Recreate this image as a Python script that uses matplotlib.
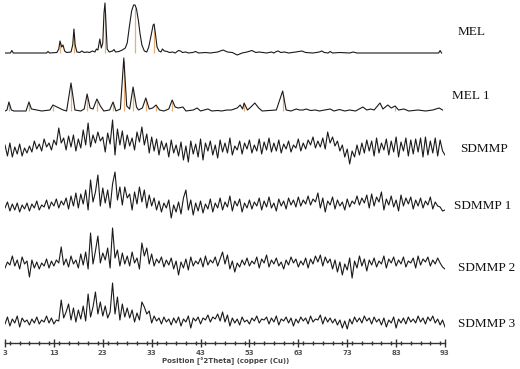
import numpy as np
import matplotlib
matplotlib.use("Agg")
import matplotlib.pyplot as plt
from matplotlib.ticker import MultipleLocator, FixedLocator

# ---------------- data ----------------
two_theta = np.arange(3.0, 93.01, 0.5)  # 181 points for the noisy SDMMP scans

sdmmp = [20, 9, 22, 8, 18, 11, 21, 9, 17, 12,
         19, 13, 24, 16, 21, 14, 26, 18, 22, 15,
         25, 20, 37, 22, 27, 15, 29, 18, 30, 14,
         26, 17, 35, 20, 42, 18, 30, 22, 33, 24,
         28, 13, 32, 21, 45, 10, 36, 20, 34, 16,
         30, 19, 27, 15, 33, 23, 38, 20, 31, 12,
         28, 14, 26, 10, 24, 15, 22, 8, 25, 12,
         20, 9, 23, 5, 19, 3, 24, 11, 21, 8,
         26, 5, 22, 14, 24, 10, 20, 7, 25, 13,
         22, 12, 27, 10, 19, 15, 24, 11, 22, 16,
         25, 12, 20, 14, 26, 11, 23, 15, 27, 13,
         22, 14, 25, 12, 21, 16, 24, 13, 20, 17,
         26, 14, 22, 16, 25, 20, 28, 17, 24, 18,
         27, 16, 33, 22, 28, 19, 24, 14, 20, 8,
         16, 1, 14, 8, 20, 10, 22, 12, 25, 14,
         24, 9, 27, 12, 22, 15, 26, 10, 24, 13,
         28, 8, 23, 14, 27, 9, 25, 11, 26, 13,
         27, 8, 28, 10, 24, 12, 27, 9, 25, 14,
         10]

sdmmp_1 = [12, 18, 9, 16, 10, 17, 8, 15, 11, 17,
           9, 16, 12, 19, 10, 15, 13, 20, 11, 18,
           14, 21, 12, 19, 15, 22, 11, 24, 14, 27,
           12, 26, 16, 30, 10, 40, 18, 28, 45, 14,
           32, 17, 30, 12, 36, 48, 20, 33, 15, 33,
           22, 26, 10, 28, 16, 33, 18, 30, 12, 25,
           14, 22, 10, 19, 8, 17, 12, 20, 2, 15,
           8, 18, 6, 22, 30, 10, 20, 5, 17, 9,
           19, 7, 16, 11, 21, 8, 17, 12, 22, 10,
           18, 13, 24, 9, 19, 14, 21, 8, 17, 12,
           20, 11, 18, 14, 22, 10, 19, 13, 23, 12,
           17, 9, 21, 14, 19, 11, 22, 15, 20, 13,
           23, 14, 20, 16, 24, 15, 21, 18, 27, 12,
           22, 8, 19, 15, 23, 11, 20, 14, 18, 10,
           21, 13, 19, 16, 24, 15, 22, 17, 25, 12,
           26, 14, 23, 18, 28, 10, 21, 15, 24, 13,
           20, 9, 25, 14, 22, 16, 23, 11, 20, 14,
           22, 12, 19, 15, 23, 11, 18, 14, 13, 9,
           10]

sdmmp_2 = [10, 16, 13, 22, 12, 18, 9, 21, 14, 17,
           1, 18, 10, 16, 9, 15, 12, 19, 10, 17,
           12, 18, 15, 31, 13, 19, 11, 22, 14, 18,
           10, 24, 13, 26, 9, 45, 14, 27, 42, 15,
           25, 18, 30, 10, 50, 20, 28, 12, 25, 14,
           22, 12, 26, 15, 20, 9, 35, 22, 30, 14,
           24, 12, 19, 15, 21, 11, 18, 13, 20, 9,
           17, 3, 16, 10, 19, 8, 21, 12, 17, 14,
           20, 11, 22, 13, 18, 15, 21, 12, 19, 26,
           14, 23, 9, 17, 6, 15, 11, 18, 13, 20,
           12, 17, 14, 21, 10, 19, 15, 23, 11, 18,
           14, 20, 12, 16, 9, 18, 13, 21, 15, 19,
           11, 17, 13, 20, 10, 19, 14, 22, 16, 23,
           12, 21, 15, 19, 9, 18, 6, 16, 3, 14,
           8, 20, 0, 17, 10, 22, 12, 19, 7, 18,
           13, 20, 11, 17, 14, 22, 10, 19, 15, 21,
           12, 18, 14, 21, 11, 17, 15, 20, 10, 22,
           13, 19, 16, 21, 12, 18, 14, 20, 15, 11,
           9]

sdmmp_3 = [8, 15, 6, 13, 9, 16, 5, 14, 10, 12,
           7, 13, 9, 15, 8, 12, 10, 16, 9, 14,
           8, 12, 11, 32, 14, 20, 28, 12, 24, 10,
           22, 13, 26, 11, 38, 15, 25, 40, 18, 30,
           16, 26, 14, 20, 49, 18, 35, 12, 28, 15,
           24, 14, 22, 10, 19, 12, 30, 25, 18, 21,
           9, 16, 11, 14, 8, 15, 10, 13, 7, 14,
           9, 15, 6, 13, 10, 16, 4, 14, 11, 15,
           8, 14, 12, 17, 10, 15, 13, 18, 11, 20,
           10, 17, 6, 14, 9, 13, 7, 15, 10, 12,
           8, 14, 11, 16, 9, 13, 12, 15, 8, 14,
           10, 16, 7, 13, 11, 15, 9, 14, 6, 13,
           9, 15, 11, 14, 8, 16, 10, 13, 12, 17,
           8, 15, 10, 14, 9, 13, 7, 12, 4, 11,
           3, 13, 8, 15, 10, 14, 9, 16, 11, 14,
           8, 15, 10, 13, 7, 14, 5, 12, 9, 15,
           4, 13, 9, 14, 8, 15, 10, 13, 9, 16,
           10, 14, 8, 15, 11, 16, 9, 13, 7, 12,
           5]

mel_x = [3.0, 4.1, 4.4, 4.7, 11.5, 11.8, 12.1, 13.6, 14.0, 14.25, 14.6, 14.86, 15.2, 15.6,
         16.5, 16.85, 17.1, 17.35, 17.7, 18.3, 18.7, 19.2, 19.8, 20.3, 20.9, 21.4, 21.7,
         22.0, 22.4, 22.7, 23.0, 23.25, 23.45, 23.65, 23.9, 24.3, 25.0, 25.3, 25.6, 26.3,
         27.0, 27.6, 28.0, 28.4, 28.9, 29.3, 29.6, 29.9, 30.3, 30.6, 31.0, 31.5, 32.0,
         32.4, 32.9, 33.3, 33.5, 33.8, 34.1, 34.5, 34.9, 35.2, 35.6, 36.2, 36.6, 37.3,
         37.8, 38.5, 38.9, 39.3, 40.0, 40.5, 41.4, 42.0, 42.6, 44.0, 45.0, 46.5, 47.6,
         48.5, 49.5, 50.5, 51.5, 52.5, 53.5, 54.3, 55.0, 56.5, 57.5, 58.0, 58.5, 58.9,
         59.4, 60.2, 61.0, 62.5, 63.7, 64.5, 66.0, 67.3, 67.8, 68.3, 69.1, 69.5, 70.0,
         71.5, 73.5, 74.2, 75.0, 91.7, 92.0, 92.3]
mel_y = [0, 0, 2.5, 0, 0, 1.5, 0, 0.5, 4, 12, 6, 8, 2, 0.5,
         1, 8, 24, 8, 1, 0.5, 2, 0.5, 1, 0.5, 2, 1, 4,
         3, 14, 5, 10, 40, 50, 30, 4, 1, 2, 3.5, 1, 1.5,
         3, 5, 10, 25, 42, 48, 48, 44, 32, 20, 8, 2, 1,
         6, 18, 28, 29, 18, 6, 2, 1, 4, 2, 1.5, 0.5, 1,
         0, 2.5, 2, 0.5, 1, 0, 0.5, 1.5, 0, 0.5, 0, 1, 3,
         1, 0.5, -2, 0, 1, 2.5, 0.5, 1, 0, 1, 0, 1.5, 2,
         0.5, 1, 0, 1, 2, 0.5, 0, 1, 2, 0.5, 0, 1.5, 0,
         0.5, 0, 1, 0, 0, 2.5, 0]

mel1_x = [3.0, 3.4, 3.8, 4.3, 4.8, 7.3, 7.9, 8.4, 9.5, 10.5, 12.2, 12.8, 14.9, 15.6,
          16.5, 17.3, 18.5, 19.2, 19.8, 20.4, 21.0, 21.8, 22.5, 23.2, 24.4, 25.1, 25.7,
          26.6, 27.3, 27.9, 28.5, 29.2, 29.9, 30.3, 31.1, 31.8, 32.5, 33.2, 33.9, 34.6,
          35.5, 36.5, 37.2, 37.8, 38.4, 39.4, 40.0, 41.5, 42.3, 43.0, 44.5, 45.3, 46.5,
          47.3, 48.4, 49.3, 50.5, 51.1, 51.6, 51.9, 52.6, 53.3, 54.1, 54.9, 55.6, 57.0,
          58.5, 59.8, 60.5, 61.5, 62.6, 63.2, 64.0, 64.6, 65.5, 66.5, 67.3, 68.4, 69.5,
          70.3, 71.4, 72.5, 73.5, 74.7, 76.2, 77.0, 77.8, 78.5, 79.7, 80.3, 80.8, 81.3,
          82.0, 82.8, 83.5, 84.6, 85.6, 87.5, 89.0, 90.5, 91.8, 92.5]
mel1_y = [0, 1, 9, 1, 0, 0, 9, 2, 1, 0, 1, 6, 1, 0,
          28, 1, 0, 2, 17, 3, 2, 12, 5, 0, 1, 9, 0,
          2, 53, 5, 2, 24, 4, 1, 3, 13, 2, 3, 6, 1,
          0, 2, 11, 4, 3, 4, 0, 1, 3, 0, 2, 0, 0.5,
          0, 1, 1, 3, 6, 2, 8, 1, 4, 8, 3, 0, 0.5,
          1, 20, 1, 0, 2, 1, 1, 2, 0.5, 1, 0, 1, 2,
          0, 1.5, 0, 1, 0, 4, 1, 2, 1, 8, 2, 4, 6,
          3, 5, 1, 2, 0, 1, 0, 1, 3, 1]

# reference-pattern sticks (position, height)
mel_stick_x = [14.25, 17.1, 23.45, 29.6, 33.5]
mel_stick_h = [10, 20, 40, 45, 25]
mel1_stick_x = [3.8, 7.9, 12.8, 16.5, 19.8, 21.8, 25.1, 27.3, 29.2, 31.8, 33.9, 37.2, 51.9, 59.8, 82.8]
mel1_stick_h = [7, 7, 5, 24, 14, 10, 7, 50, 20, 11, 5, 9, 6, 17, 4]

labels = ["MEL", "MEL 1", "SDMMP", "SDMMP 1", "SDMMP 2", "SDMMP 3"]
major_ticks = [3, 13, 23, 33, 43, 53, 63, 73, 83, 93]
x_title = "Position [°2Theta] (copper (Cu))"

# ---------------- layout ----------------
W, H = 520, 369
fig = plt.figure(figsize=(W / 100, H / 100), dpi=100)
axis_px = 343
ax = fig.add_axes([5 / W, (H - axis_px) / H, 440 / W, axis_px / H])
ax.set_xlim(3, 93)
ax.set_ylim(0, axis_px)

line_kw = dict(color="#1a1a1a", lw=0.8)
stick_col = "#e3b07a"

# baselines in pixel units above the axis
base_mel = axis_px - 53
base_mel1 = axis_px - 111
bases_sd = [axis_px - 165, axis_px - 220, axis_px - 278, axis_px - 332]

ax.vlines(mel_stick_x, base_mel, base_mel + np.array(mel_stick_h), color=stick_col, lw=0.9)
ax.plot(mel_x, base_mel + np.array(mel_y), **line_kw)
ax.vlines(mel1_stick_x, base_mel1, base_mel1 + np.array(mel1_stick_h), color=stick_col, lw=0.9)
ax.plot(mel1_x, base_mel1 + np.array(mel1_y), **line_kw)
for b, s in zip(bases_sd, [sdmmp, sdmmp_1, sdmmp_2, sdmmp_3]):
    ax.plot(two_theta, b + np.array(s), **line_kw)

for sp in ["top", "right", "left"]:
    ax.spines[sp].set_visible(False)
ax.spines["bottom"].set_color("#333333")
ax.spines["bottom"].set_linewidth(1.0)
ax.set_yticks([])
ax.xaxis.set_major_locator(FixedLocator(major_ticks))
ax.xaxis.set_minor_locator(MultipleLocator(2))
ax.set_xticklabels([str(t) for t in major_ticks])
ax.tick_params(axis="x", which="major", direction="inout", length=6, width=1,
               color="#333333", labelsize=5, labelcolor="#555555", pad=2)
ax.tick_params(axis="x", which="minor", direction="inout", length=2.5, width=1,
               color="#333333")
for lbl in ax.get_xticklabels():
    lbl.set_fontweight("bold")

fig.text(226 / W, 1 - 361 / H, x_title, ha="center", va="center",
         fontsize=5.0, color="#444444", fontweight="bold")

label_pos = [(458, 32), (452, 96), (460, 149), (454, 206), (458, 268), (458, 324)]
for (px, py), t in zip(label_pos, labels):
    fig.text(px / W, 1 - py / H, t, ha="left", va="center",
             fontsize=9.5, family="Liberation Serif", color="#111111")

fig.savefig("out.png", dpi=100)
